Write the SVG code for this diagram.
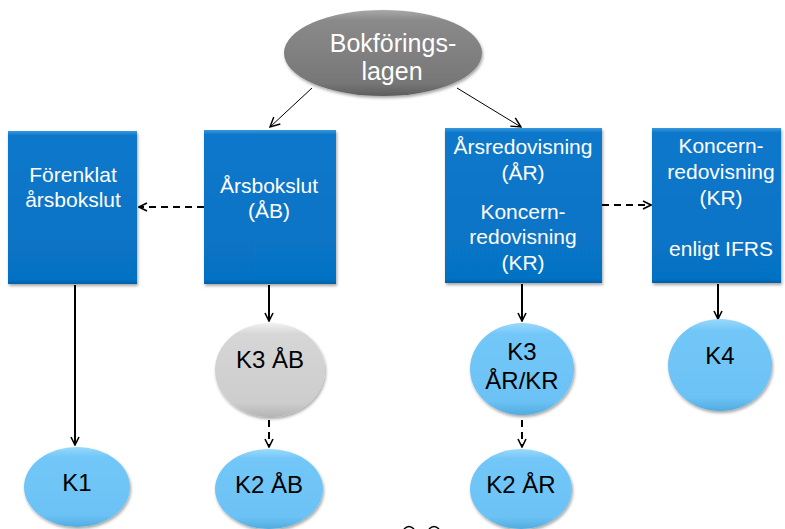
<svg xmlns="http://www.w3.org/2000/svg" width="785" height="529" viewBox="0 0 785 529">
<defs>
<linearGradient id="boxg" x1="0" y1="0" x2="0" y2="1">
<stop offset="0" stop-color="#3a97dc"/>
<stop offset="0.03" stop-color="#0a78cb"/>
<stop offset="0.97" stop-color="#0672c4"/>
<stop offset="1" stop-color="#0560a8"/>
</linearGradient>
<linearGradient id="grayg" x1="0" y1="0" x2="0" y2="1">
<stop offset="0" stop-color="#a8a8a8"/>
<stop offset="0.12" stop-color="#8a8a8a"/>
<stop offset="0.85" stop-color="#777777"/>
<stop offset="1" stop-color="#5e5e5e"/>
</linearGradient>
<linearGradient id="lgrayg" x1="0" y1="0" x2="0" y2="1">
<stop offset="0" stop-color="#f0f0f0"/>
<stop offset="0.12" stop-color="#d6d6d6"/>
<stop offset="0.85" stop-color="#cdcdcd"/>
<stop offset="1" stop-color="#b4b4b4"/>
</linearGradient>
<linearGradient id="blueg" x1="0" y1="0" x2="0" y2="1">
<stop offset="0" stop-color="#9ad9fb"/>
<stop offset="0.12" stop-color="#72c7f8"/>
<stop offset="0.85" stop-color="#6cc2f5"/>
<stop offset="1" stop-color="#52ace0"/>
</linearGradient>
<filter id="sh" x="-10%" y="-10%" width="125%" height="125%">
<feDropShadow dx="1" dy="2" stdDeviation="1.5" flood-color="#000" flood-opacity="0.35"/>
</filter>
<marker id="ah" viewBox="0 0 10 10" refX="9" refY="5" markerWidth="10" markerHeight="10" markerUnits="userSpaceOnUse" orient="auto">
<path d="M1,1 L9,5 L1,9" fill="none" stroke="#000" stroke-width="1.6"/>
</marker>
<marker id="ahs" viewBox="0 0 10 10" refX="9" refY="5" markerWidth="12" markerHeight="12" markerUnits="userSpaceOnUse" orient="auto">
<path d="M1,1 L9,5 L1,9" fill="none" stroke="#000" stroke-width="1.2"/>
</marker>
</defs>
<style>
.box{fill:url(#boxg);filter:url(#sh)}
.wt{font-family:"Liberation Sans",Arial,sans-serif;font-size:21px;fill:#fff;text-anchor:middle}
.big{font-size:25px}
.bt{font-family:"Liberation Sans",Arial,sans-serif;font-size:24px;fill:#000;text-anchor:middle}
.ell{fill:url(#blueg);filter:url(#sh)}
.solid{fill:none;stroke:#000;stroke-width:2;marker-end:url(#ah)}
.thin{fill:none;stroke:#000;stroke-width:1;marker-end:url(#ahs)}
.dash{fill:none;stroke:#000;stroke-width:2;stroke-dasharray:7 5;marker-end:url(#ah)}
</style>
<g id="connectors">
<line class="thin" x1="312" y1="88" x2="270" y2="127"/>
<line class="thin" x1="457" y1="88" x2="521" y2="127"/>
<line class="dash" x1="204" y1="207" x2="139" y2="207"/>
<line class="dash" x1="602" y1="205" x2="651" y2="205"/>
<line class="solid" x1="75" y1="285" x2="75" y2="445"/>
<line class="solid" x1="269" y1="285" x2="269" y2="321"/>
<line class="dash" x1="269" y1="420" x2="269" y2="447"/>
<line class="solid" x1="522" y1="284" x2="522" y2="321"/>
<line class="dash" x1="522" y1="420" x2="522" y2="447"/>
<line class="solid" x1="718" y1="284" x2="718" y2="319"/>
</g>
<g id="bokforingslagen">
<ellipse cx="383" cy="53" rx="99" ry="43" fill="url(#grayg)" filter="url(#sh)"/>
<text class="wt big" x="393" y="52">Bokförings-</text>
<text class="wt big" x="392" y="80">lagen</text>
</g>
<g id="forenklat">
<rect class="box" x="8" y="131" width="129" height="153"/>
<text class="wt" x="73" y="182">Förenklat</text>
<text class="wt" x="73" y="207">årsbokslut</text>
</g>
<g id="arsbokslut">
<rect class="box" x="204" y="130" width="132" height="154"/>
<text class="wt" x="269" y="193">Årsbokslut</text>
<text class="wt" x="269" y="218">(ÅB)</text>
</g>
<g id="arsredovisning">
<rect class="box" x="445" y="128" width="157" height="155"/>
<text class="wt" x="523" y="154">Årsredovisning</text>
<text class="wt" x="523" y="180">(ÅR)</text>
<text class="wt" x="523" y="219">Koncern-</text>
<text class="wt" x="523" y="244">redovisning</text>
<text class="wt" x="523" y="270">(KR)</text>
</g>
<g id="koncernifrs">
<rect class="box" x="652" y="128" width="129" height="155"/>
<text class="wt" x="721" y="153">Koncern-</text>
<text class="wt" x="721" y="179">redovisning</text>
<text class="wt" x="721" y="205">(KR)</text>
<text class="wt" x="721" y="256">enligt IFRS</text>
</g>
<g id="k1">
<ellipse class="ell" cx="77" cy="487" rx="53" ry="40"/>
<text class="bt" x="77" y="491">K1</text>
</g>
<g id="k3ab">
<ellipse cx="270" cy="370" rx="55" ry="47" fill="url(#lgrayg)" filter="url(#sh)"/>
<text class="bt" x="270" y="368">K3 ÅB</text>
</g>
<g id="k2ab">
<ellipse class="ell" cx="269" cy="489" rx="54" ry="40"/>
<text class="bt" x="269" y="493">K2 ÅB</text>
</g>
<g id="k3arkr">
<ellipse class="ell" cx="522" cy="369" rx="52" ry="46"/>
<text class="bt" x="522" y="360">K3</text>
<text class="bt" x="522" y="389">ÅR/KR</text>
</g>
<g id="k2ar">
<ellipse class="ell" cx="521" cy="489" rx="51" ry="40"/>
<text class="bt" x="521" y="493">K2 ÅR</text>
</g>
<g id="k4">
<ellipse class="ell" cx="720" cy="365" rx="52" ry="46"/>
<text class="bt" x="720" y="364">K4</text>
</g>
<g id="fragment">
<path d="M404,529 Q409,524 414,529" fill="none" stroke="#000" stroke-width="1.5"/>
<path d="M429,529 Q434,524 439,529" fill="none" stroke="#000" stroke-width="1.5"/>
</g>
</svg>
